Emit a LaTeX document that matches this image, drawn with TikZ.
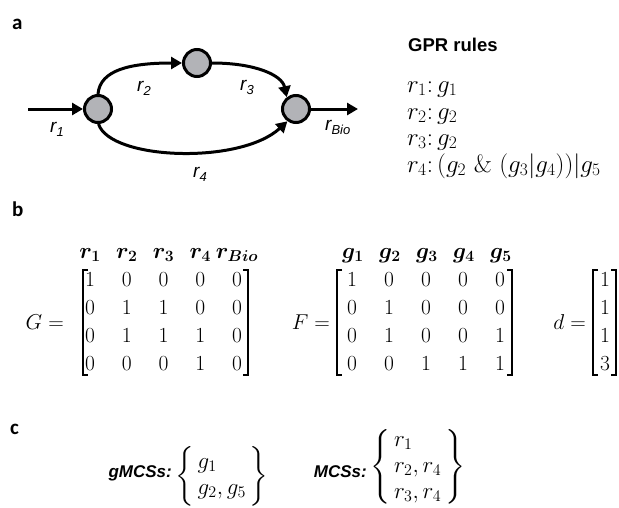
\RequirePackage{fix-cm}
\documentclass[tikz,border=0pt]{standalone}
\usepackage{fontspec}
\usepackage{amsmath}
\usepackage{bm}
\usetikzlibrary{arrows.meta}
\newfontfamily\arialfont{Liberation Sans}
\newfontfamily\calfont{Carlito}
\definecolor{metgray}{RGB}{178,179,183}
\newcommand\rsub[1]{r\raisebox{-4pt}{\fontsize{13}{13}\selectfont #1}}
\tikzset{
  met/.style={circle, draw=black, line width=3pt, fill=metgray, minimum size=27pt, inner sep=0pt},
  rxn/.style={line width=3pt, -{Triangle[length=11pt,width=12pt]}},
  rlab/.style={font=\fontsize{19}{22}\selectfont\arialfont\itshape, inner sep=0pt, anchor=base west},
  panel/.style={font=\fontsize{21}{24}\selectfont\calfont\bfseries, inner sep=0pt, anchor=base west},
  mtx/.style={font=\fontsize{21.5}{25}\selectfont, inner sep=0pt},
  hdr/.style={font=\fontsize{22.5}{26}\selectfont, inner sep=0pt, anchor=base},
  gpr/.style={font=\fontsize{25}{30}\selectfont, inner sep=0pt, anchor=base west},
  brk/.style={line width=1.2pt},
  setlab/.style={font=\fontsize{17}{20}\selectfont\arialfont\bfseries\itshape, inner sep=0pt, anchor=base east},
  setbr/.style={font=\fontsize{23}{26}\selectfont, inner sep=0pt},
}
\begin{document}
\begin{tikzpicture}[x=1pt,y=1pt]
\useasboundingbox (0,0) rectangle (619,-507);
% ---------- panel a ----------
\node[panel] (pa) at (12,-29) {a};
\node[met] (L) at (98,-109) {};
\node[met] (T) at (197,-63) {};
\node[met] (R) at (296,-109) {};
\coordinate (in) at (28,-109);
\coordinate (out) at (358,-109);
\draw[rxn] (in) -- (L);
\draw[rxn] (R) -- (out);
\draw[rxn] (L.90) .. controls (100,-70) and (130,-63) .. (T.west);
\draw[rxn] (T.east) .. controls (255,-63) and (282,-75) .. (R.128);
\draw[rxn] (L.272) .. controls (110,-160) and (240,-165) .. (R.235);
\node[rlab] (l1) at (50,-132) {\rsub{1}};
\node[rlab] (l2) at (137,-91) {\rsub{2}};
\node[rlab] (l3) at (240,-90) {\rsub{3}};
\node[rlab] (l4) at (193,-177) {\rsub{4}};
\node[rlab] (lb) at (325,-130) {\rsub{Bio}};
% GPR rules
\node[font=\fontsize{18.5}{22}\selectfont\arialfont\bfseries, inner sep=0pt, anchor=base west] (gprt) at (408,-51) {GPR rules};
\node[gpr] (g1) at (407,-92) {$r_1{:}\,g_1$};
\node[gpr] (g2) at (407,-119) {$r_2{:}\,g_2$};
\node[gpr] (g3) at (407,-145) {$r_3{:}\,g_2$};
\node[gpr] (g4) at (407,-172) {$r_4{:}\,(g_2\ \&\ (g_3\mathord{|}g_4))\mathord{|}g_5$};
% ---------- panel b ----------
\node[panel] (pb) at (12,-216) {b};
% G
\node[mtx, anchor=east] (Glab) at (64,-322) {$G=$};
\foreach \h [count=\j] in {{\bm{r}_{\bm{1}}},{\bm{r}_{\bm{2}}},{\bm{r}_{\bm{3}}},{\bm{r}_{\bm{4}}},{\bm{r}_{\bm{Bio}}}} {
  \node[hdr] (Gh-\j) at ({90+36.75*(\j-1)},-258) {$\h$};
}
\foreach \row [count=\i] in {{1,0,0,0,0},{0,1,1,0,0},{0,1,1,1,0},{0,0,0,1,0}} {
  \foreach \v [count=\j] in \row {
    \node[mtx] (G-\i-\j) at ({90+36.75*(\j-1)},{-280-28*(\i-1)}) {$\v$};
  }
}
\draw[brk] (88,-270) -- (83,-270) -- (83,-375) -- (88,-375);
\draw[brk] (243,-270) -- (248,-270) -- (248,-375) -- (243,-375);
% F
\node[mtx, anchor=east] (Flab) at (330,-322) {$F=$};
\foreach \h [count=\j] in {{\bm{g}_{\bm{1}}},{\bm{g}_{\bm{2}}},{\bm{g}_{\bm{3}}},{\bm{g}_{\bm{4}}},{\bm{g}_{\bm{5}}}} {
  \node[hdr] (Fh-\j) at ({353+37*(\j-1)},-258) {$\h$};
}
\foreach \row [count=\i] in {{1,0,0,0,0},{0,1,0,0,0},{0,1,0,0,1},{0,0,1,1,1}} {
  \foreach \v [count=\j] in \row {
    \node[mtx] (F-\i-\j) at ({352+37*(\j-1)},{-280-28*(\i-1)}) {$\v$};
  }
}
\draw[brk] (342,-270) -- (337,-270) -- (337,-375) -- (342,-375);
\draw[brk] (507,-270) -- (512,-270) -- (512,-375) -- (507,-375);
% d
\node[mtx, anchor=east] (dlab) at (586,-322) {$d=$};
\foreach \v [count=\i] in {1,1,1,3} {
  \node[mtx] (d-\i) at (605,{-280-28*(\i-1)}) {$\v$};
}
\draw[brk] (598,-270) -- (593,-270) -- (593,-375) -- (598,-375);
\draw[brk] (611,-270) -- (616,-270) -- (616,-375) -- (611,-375);
% ---------- panel c ----------
\node[panel] (pc) at (10,-434) {c};
\node[setlab] (gm) at (172,-477) {gMCSs:};
\node[setbr, anchor=west] (gmset) at (175,-476) {$\left\{\,\begin{array}{@{}l@{}}g_1\\ g_2,g_5\end{array}\,\right\}$};
\node[setlab] (m) at (367,-477) {MCSs:};
\node[setbr, anchor=west] (mset) at (370,-467) {$\left\{\,\begin{array}{@{}l@{}}r_1\\ r_2,r_4\\ r_3,r_4\end{array}\,\right\}$};
\end{tikzpicture}
\end{document}
